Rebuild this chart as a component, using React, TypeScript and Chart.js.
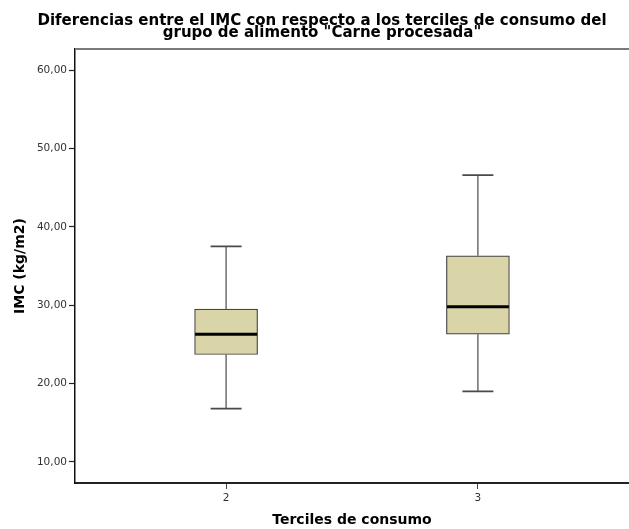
import React, { useEffect, useRef } from 'react';
import { Chart, registerables } from 'chart.js';

Chart.register(...registerables);

// ---- data ----
const titleLines = ['Diferencias entre el IMC con respecto a los terciles de consumo del', 'grupo de alimento "Carne procesada"'];
const groups = [2, 3];
const mins = [16.8, 19.0];
const q1s = [23.7, 26.3];
const medians = [26.3, 29.8];
const q3s = [29.5, 36.3];
const maxs = [37.5, 46.6];
const yTicks = [10, 20, 30, 40, 50, 60];
const xTitle = 'Terciles de consumo';
const yTitle = 'IMC (kg/m2)';

const BOX_W = 63;
const CAP_W = 31;

const boxPlugin = {
  id: 'boxWhiskers',
  afterDatasetsDraw(chart: any) {
    const { ctx, scales, chartArea } = chart;
    const xs = scales.x;
    const ys = scales.y;
    ctx.save();
    groups.forEach((g, i) => {
      const cx = xs.getPixelForValue(g);
      const pMin = ys.getPixelForValue(mins[i]);
      const pMax = ys.getPixelForValue(maxs[i]);
      const pQ1 = ys.getPixelForValue(q1s[i]);
      const pQ3 = ys.getPixelForValue(q3s[i]);
      const pMed = ys.getPixelForValue(medians[i]);
      ctx.strokeStyle = '#4a4a4a';
      ctx.lineWidth = 1.2;
      ctx.beginPath();
      ctx.moveTo(cx, pQ3);
      ctx.lineTo(cx, pMax);
      ctx.moveTo(cx, pQ1);
      ctx.lineTo(cx, pMin);
      ctx.stroke();
      ctx.lineWidth = 1.8;
      ctx.beginPath();
      ctx.moveTo(cx - CAP_W / 2, pMax);
      ctx.lineTo(cx + CAP_W / 2, pMax);
      ctx.moveTo(cx - CAP_W / 2, pMin);
      ctx.lineTo(cx + CAP_W / 2, pMin);
      ctx.stroke();
      ctx.strokeStyle = '#000';
      ctx.lineWidth = 3;
      ctx.beginPath();
      ctx.moveTo(cx - BOX_W / 2 + 0.5, pMed);
      ctx.lineTo(cx + BOX_W / 2 - 0.5, pMed);
      ctx.stroke();
    });
    // top frame line
    ctx.strokeStyle = '#7a7a7a';
    ctx.lineWidth = 2;
    ctx.beginPath();
    ctx.moveTo(chartArea.left, chartArea.top);
    ctx.lineTo(chart.width, chartArea.top);
    ctx.stroke();
    ctx.restore();
  },
  afterDraw(chart: any) {
    const { ctx } = chart;
    ctx.save();
    ctx.fillStyle = '#000';
    ctx.font = 'bold 15px "DejaVu Sans"';
    ctx.textAlign = 'center';
    ctx.textBaseline = 'alphabetic';
    ctx.fillText(titleLines[0], 322, 25);
    ctx.fillText(titleLines[1], 322, 37);
    ctx.restore();
  },
};

export default function App() {
  const ref = useRef<HTMLCanvasElement>(null);
  useEffect(() => {
    if (!ref.current) return;
    const chart = new Chart(ref.current, {
      type: 'bar',
      data: {
        datasets: [
          {
            data: groups.map((g, i) => ({ x: g, y: [q1s[i], q3s[i]] })) as any,
            backgroundColor: '#D9D5A8',
            borderColor: '#444',
            borderWidth: 1.2,
            borderSkipped: false,
            barThickness: BOX_W,
          },
        ],
      },
      options: {
        animation: false,
        responsive: false,
        layout: { padding: { top: 49, left: 0, right: 0, bottom: 0 } },
        plugins: { legend: { display: false }, tooltip: { enabled: false }, title: { display: false } },
        scales: {
          x: {
            type: 'linear',
            min: 1.4,
            max: 3.6,
            offset: false,
            afterBuildTicks: (s: any) => {
              s.ticks = groups.map((v) => ({ value: v }));
            },
            afterFit: (s: any) => {
              s.height = 46;
            },
            grid: { display: true, offset: false, drawOnChartArea: false, tickLength: 6, color: '#444', tickWidth: 1 },
            border: { display: true, color: '#222', width: 2 },
            ticks: {
              callback: (v: any) => String(v),
              font: { family: 'DejaVu Sans', size: 10.5 },
              color: '#333',
              padding: 3,
              maxRotation: 0,
            },
            title: {
              display: true,
              text: xTitle,
              font: { family: 'DejaVu Sans', size: 14, weight: 'bold' },
              color: '#000',
              padding: { top: 0, bottom: 0 },
            },
          },
          y: {
            type: 'linear',
            min: 7.3,
            max: 62.7,
            afterBuildTicks: (s: any) => {
              s.ticks = yTicks.map((v) => ({ value: v }));
            },
            afterFit: (s: any) => {
              s.width = 75;
            },
            grid: { display: true, drawOnChartArea: false, tickLength: 6, color: '#222', tickWidth: 1.2 },
            border: { display: true, color: '#111', width: 1.5 },
            ticks: {
              callback: (v: any) => Number(v).toFixed(2).replace('.', ','),
              font: { family: 'DejaVu Sans', size: 10.5 },
              color: '#333',
              padding: 2,
            },
            title: {
              display: true,
              text: yTitle,
              font: { family: 'DejaVu Sans', size: 14, weight: 'bold' },
              color: '#000',
              padding: { top: 11.6, bottom: 0 },
            },
          },
        },
      } as any,
      plugins: [boxPlugin],
    });
    return () => chart.destroy();
  }, []);
  return (
    <canvas
      ref={ref}
      width={629}
      height={529}
      style={{ position: 'absolute', left: 0, top: 0, width: 629, height: 529, display: 'block' }}
    />
  );
}
